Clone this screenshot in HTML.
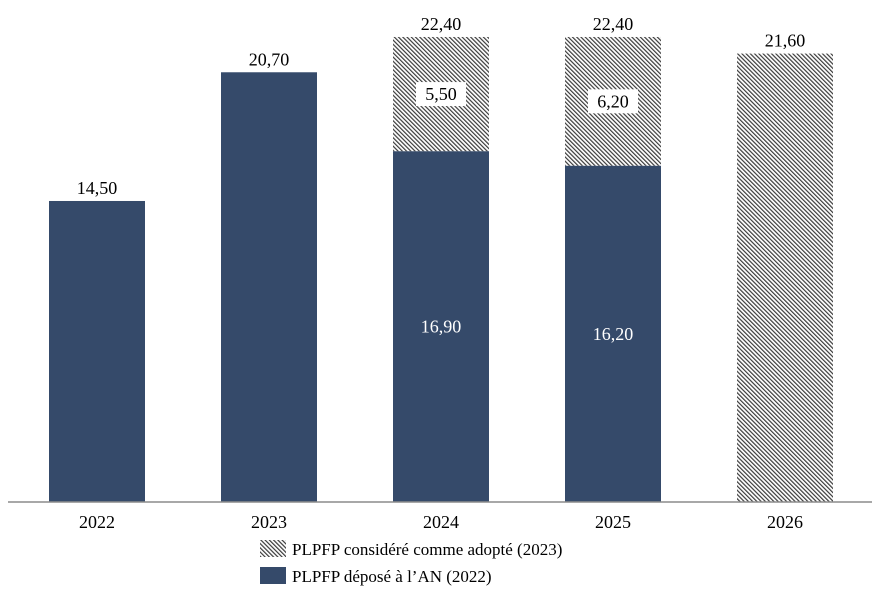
<!DOCTYPE html>
<html><head><meta charset="utf-8"><style>
body{margin:0;background:#fff}
svg text{font-family:"Liberation Serif",serif}
</style></head><body>
<svg id="c" width="880" height="602" xmlns="http://www.w3.org/2000/svg">
<defs>
<pattern id="hatch" width="3" height="3" patternUnits="userSpaceOnUse" patternTransform="rotate(-45)">
<rect width="3" height="3" fill="#fff"/>
<rect x="0" y="0" width="1.2" height="3" fill="#3a3a3a"/>
</pattern>
</defs>
<g id="bars"></g>
<line x1="8" y1="502" x2="872" y2="502" stroke="#8c8c8c" stroke-width="1.5"/>
<g id="labels"></g>
<g>
<rect x="260" y="540" width="26" height="17" fill="url(#hatch)"/>
<text x="292" y="555" font-size="17" fill="#000">PLPFP considéré comme adopté (2023)</text>
<rect x="260" y="567" width="26" height="17" fill="#354a6a"/>
<text x="292" y="582" font-size="17" fill="#000">PLPFP déposé à l’AN (2022)</text>
</g>
</svg>
<script>
const categories=["2022","2023","2024","2025","2026"];
const deposited=[14.5,20.7,16.9,16.2,0];
const adopted=[0,0,5.5,6.2,21.6];
const totals=[14.5,20.7,22.4,22.4,21.6];
const NS="http://www.w3.org/2000/svg";
const base=502,scale=20.76,x0=49,step=172,bw=96;
const xs=i=>x0+i*step;
const ys=v=>base-v*scale;
const fmt=v=>v.toFixed(2).replace(".",",");
const bars=document.getElementById("bars"),labels=document.getElementById("labels");
function mk(tag,attrs,parent){const e=document.createElementNS(NS,tag);for(const k in attrs)e.setAttribute(k,attrs[k]);parent.appendChild(e);return e;}
categories.forEach((c,i)=>{
  const d=deposited[i],a=adopted[i];
  if(d>0){
    const r=mk("rect",{x:xs(i),y:ys(d),width:bw,height:d*scale,fill:"#354a6a"},bars);
    
    
  }
  if(a>0){
    const r=mk("rect",{x:xs(i),y:ys(d+a),width:bw,height:a*scale,fill:"url(#hatch)"},bars);
    
    
  }
  const cx=xs(i)+bw/2;
  const t=mk("text",{x:cx,y:ys(totals[i])-7,"font-size":18,"text-anchor":"middle",fill:"#000"},labels);
  t.textContent=fmt(totals[i]);
  
  
  const xl=mk("text",{x:cx,y:528,"font-size":18,"text-anchor":"middle",fill:"#000"},labels);
  xl.textContent=c;
  
  
  if(d>0&&a>0){
    const ym=ys(d+a/2);
    const bg=mk("rect",{x:cx-25,y:ym-12,width:50,height:24,fill:"#fff"},labels);
    
    
    const at=mk("text",{x:cx,y:ym+6,"font-size":18,"text-anchor":"middle",fill:"#000"},labels);
    at.textContent=fmt(a);
    
    
    const dt=mk("text",{x:cx,y:ys(d/2)+6,"font-size":18,"text-anchor":"middle",fill:"#fff"},labels);
    dt.textContent=fmt(d);
    
    
  }
});
</script>
</body></html>
